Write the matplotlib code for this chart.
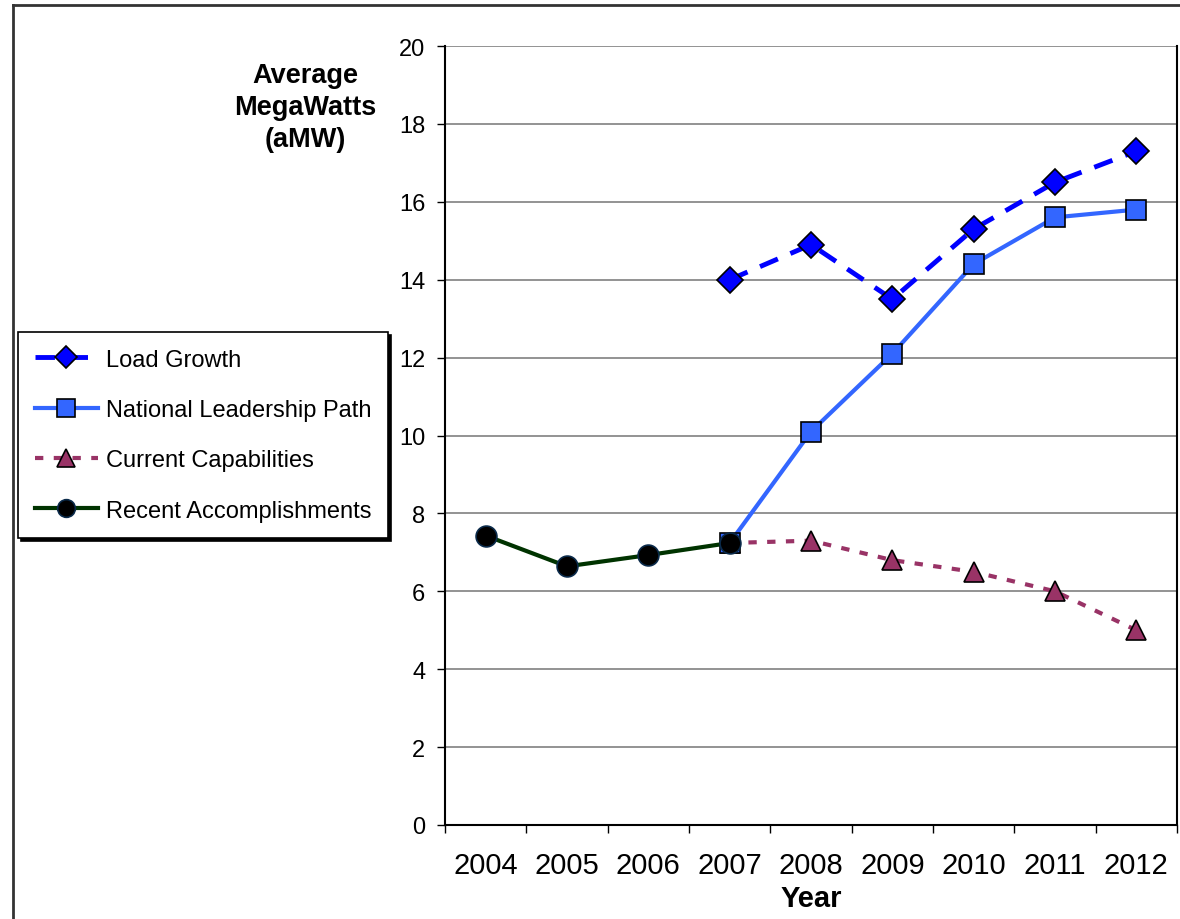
import matplotlib
matplotlib.use("Agg")
import matplotlib.pyplot as plt
from matplotlib.lines import Line2D

plt.rcParams['font.family'] = ['Liberation Sans', 'DejaVu Sans']

# --- data ---
years = ['2004', '2005', '2006', '2007', '2008', '2009', '2010', '2011', '2012']
load_growth = [None, None, None, 14.0, 14.9, 13.5, 15.3, 16.5, 17.3]
national_path = [None, None, None, 7.24, 10.1, 12.1, 14.4, 15.6, 15.8]
current_cap = [None, None, None, 7.24, 7.3, 6.8, 6.5, 6.0, 5.0]
recent = [7.43, 6.64, 6.93, 7.24, None, None, None, None, None]


def pts(vals):
    xs = [i for i, v in enumerate(vals) if v is not None]
    ys = [v for v in vals if v is not None]
    return xs, ys


W, H = 1180, 920
fig = plt.figure(figsize=(W / 100, H / 100), dpi=100)
ax = fig.add_axes([445 / W, (H - 826) / H, 732 / W, 779 / H])

# series
x, y = pts(load_growth)
ax.plot(x, y, color='#0000FF', lw=3.5, dashes=(4, 2.8), marker='D', ms=13,
        mfc='#0000FF', mec='black', mew=1.2, label='Load Growth', zorder=4)
x, y = pts(national_path)
ax.plot(x, y, color='#3366FF', lw=3, marker='s', ms=15,
        mfc='#3366FF', mec='black', mew=1.2, label='National Leadership Path', zorder=3)
x, y = pts(current_cap)
ax.plot(x, y, color='#993366', lw=3, dashes=(2, 2.5), marker='^', ms=15,
        mfc='#993366', mec='black', mew=1.2, label='Current Capabilities', zorder=2)
x, y = pts(recent)
ax.plot(x, y, color='#003300', lw=3, marker='o', ms=15,
        mfc='black', mec='#0a2a4a', mew=1.2, label='Recent Accomplishments', zorder=5)

# axes
ax.set_xlim(-0.5, len(years) - 0.5)
ax.set_ylim(0, 20)
ax.set_yticks(range(0, 21, 2))
ax.set_xticks(range(len(years)))
ax.set_xticklabels(years, fontsize=21)
ax.set_xticks([i - 0.5 for i in range(len(years) + 1)], minor=True)
ax.tick_params(axis='x', which='major', length=0, pad=19)
ax.tick_params(axis='x', which='minor', length=5.8, width=1, direction='out')
ax.tick_params(axis='y', length=5.8, width=1, direction='out', labelsize=17, pad=8.5)
ax.grid(axis='y', color='#808080', lw=1.2)
ax.set_axisbelow(True)
for s in ['left', 'bottom', 'right']:
    ax.spines[s].set_color('black')
    ax.spines[s].set_linewidth(1.5)
ax.spines['top'].set_visible(False)

ax.set_xlabel('Year', fontsize=21, fontweight='bold', labelpad=3)
fig.text(305 / W, 1 - 108 / H, 'Average\nMegaWatts\n(aMW)', ha='center', va='center',
         fontsize=19.5, fontweight='bold', linespacing=1.28)

leg = ax.legend(loc='upper left', bbox_to_anchor=(18 / W, 1 - 333 / H),
                bbox_transform=fig.transFigure, borderaxespad=0, fontsize=17,
                frameon=True, fancybox=False, shadow={'color': 'black', 'alpha': 1},
                handlelength=2.7, handletextpad=0.34, labelspacing=1.2,
                borderpad=0.7, numpoints=1, markerscale=0.85)
leg.get_frame().set_edgecolor('black')
leg.get_frame().set_linewidth(1.2)

# outer chart frame
fig.add_artist(Line2D([13 / W, 13 / W], [0, 1 - 6 / H], color='#333333', lw=2,
                      transform=fig.transFigure))
fig.add_artist(Line2D([13 / W, 1], [1 - 6 / H, 1 - 6 / H], color='#333333', lw=2,
                      transform=fig.transFigure))

fig.savefig('out.png', dpi=100)
